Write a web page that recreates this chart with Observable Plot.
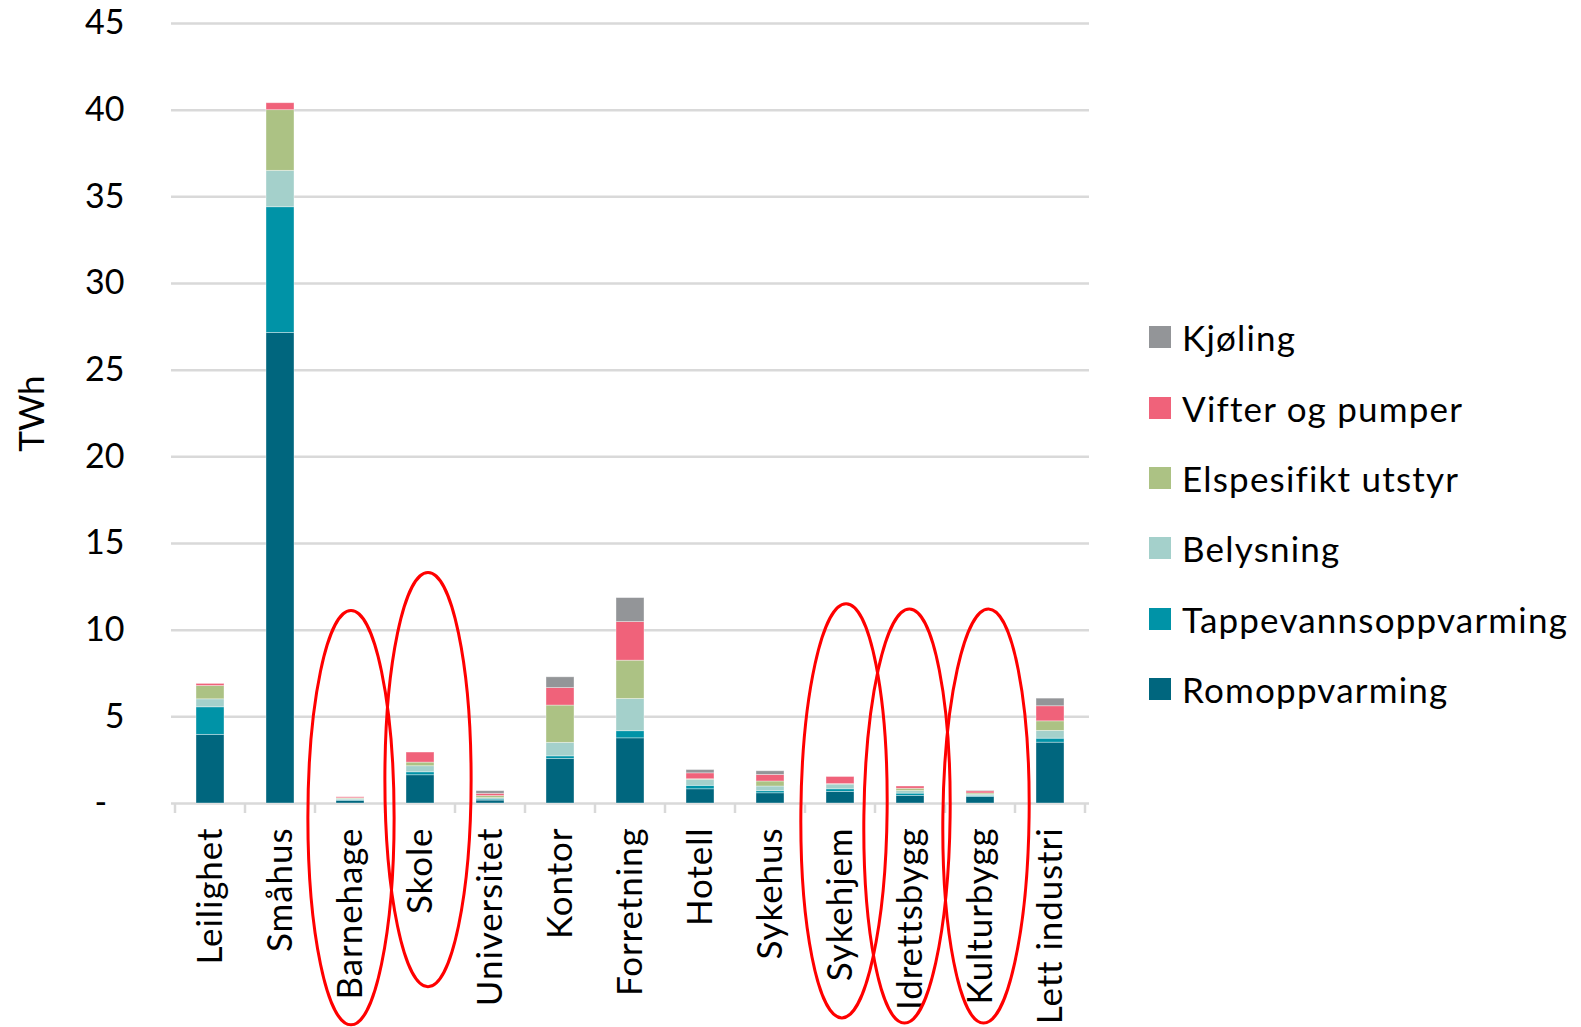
<!DOCTYPE html>
<html lang="no">
<head>
<meta charset="utf-8">
<script src="https://cdn.jsdelivr.net/npm/d3@7"></script>
<script src="https://cdn.jsdelivr.net/npm/@observablehq/plot@0.6"></script>
<style>
  html, body { margin: 0; padding: 0; background: #fff; }
  #wrap { position: relative; width: 1581px; height: 1027px; font-family: Lato, "Noto Sans", sans-serif; color: #000; }
  #legend { position: absolute; left: 1149px; top: 302px; }
  .item { display: flex; align-items: center; height: 70.4px; font-size: 35px; letter-spacing: 1.2px; white-space: nowrap; }
  .sw { width: 22px; height: 22px; margin-right: 11px; flex: none; }
  svg g[aria-label="x-axis tick label"] text { letter-spacing: 0.9px; }
</style>
</head>
<body>
<div id="wrap"><div id="legend"></div></div>
<script>
// Building categories (x axis)
const categories = ["Leilighet", "Småhus", "Barnehage", "Skole", "Universitet", "Kontor", "Forretning", "Hotell", "Sykehus", "Sykehjem", "Idrettsbygg", "Kulturbygg", "Lett industri"];

// End-use series, bottom of the stack first
const seriesNames = ["Romoppvarming", "Tappevannsoppvarming", "Belysning", "Elspesifikt utstyr", "Vifter og pumper", "Kjøling"];

// TWh per building category, one array per end use
const romoppvarming      = [3.96, 27.15, 0.15, 1.63, 0.17, 2.57, 3.76, 0.82, 0.59, 0.67, 0.44, 0.38, 3.51];
const tappevannsoppvarm  = [1.59,  7.25, 0.05, 0.17, 0.06, 0.15, 0.41, 0.20, 0.12, 0.15, 0.13, 0.06, 0.23];
const belysning          = [0.46,  2.10, 0.06, 0.35, 0.08, 0.78, 1.86, 0.35, 0.27, 0.27, 0.15, 0.07, 0.45];
const elspesifikt        = [0.77,  3.50, 0.04, 0.21, 0.12, 2.15, 2.21, 0.03, 0.29, 0.03, 0.13, 0.07, 0.55];
const vifterPumper       = [0.12,  0.40, 0.06, 0.58, 0.13, 1.01, 2.23, 0.34, 0.38, 0.41, 0.13, 0.12, 0.87];
const kjoling            = [0.00,  0.00, 0.00, 0.00, 0.15, 0.62, 1.38, 0.19, 0.21, 0.00, 0.00, 0.03, 0.44];

// Y axis tick values
const yTicks = [0, 5, 10, 15, 20, 25, 30, 35, 40, 45];

// Highlighted categories: ellipse vertical extent in TWh (reaching below the axis into the labels)
const highlights = [
  {category: "Barnehage",   top: 11.1, bottom: -12.8, shift: 1,  tilt: 0},
  {category: "Skole",       top: 13.3, bottom: -10.6, shift: 8,  tilt: 0},
  {category: "Sykehjem",    top: 11.5, bottom: -12.4, shift: 4,  tilt: 0.6},
  {category: "Idrettsbygg", top: 11.2, bottom: -12.7, shift: -3, tilt: 0.7},
  {category: "Kulturbygg",  top: 11.2, bottom: -12.7, shift: 6,  tilt: 0.7}
];

const palette = ["#00667e", "#0093a7", "#a4d0cb", "#acc284", "#f0627a", "#939598"];

const seriesValues = [romoppvarming, tappevannsoppvarm, belysning, elspesifikt, vifterPumper, kjoling];
const rows = categories.flatMap((c, i) =>
  seriesNames.map((s, j) => ({category: c, series: s, value: seriesValues[j][i]}))
);

const chart = Plot.plot({
  width: 1581,
  height: 1027,
  marginLeft: 171,
  marginRight: 492,
  marginTop: 23,
  marginBottom: 224,
  style: {fontFamily: "Lato, 'Noto Sans', sans-serif", color: "#000", background: "transparent"},
  x: {domain: categories, paddingInner: 0.6, paddingOuter: 0.3},
  y: {domain: [0, 45]},
  color: {domain: seriesNames, range: palette},
  marks: [
    Plot.gridY(yTicks.filter(d => d > 0), {stroke: "#d9d9d9", strokeOpacity: 1, strokeWidth: 2.5}),
    Plot.ruleY([0], {stroke: "#d9d9d9", strokeWidth: 2.5}),
    Plot.barY(rows, Plot.stackY({
      x: "category", y: "value", fill: "series", z: "series", order: seriesNames,
      stroke: "#ffffff", strokeWidth: 0.8, strokeOpacity: 0.45
    })),
    Plot.axisY(yTicks, {
      tickSize: 0, tickPadding: 47, fontSize: 34, label: null,
      tickFormat: d => d === 0 ? "-\u00a0\u00a0" : String(d)
    }),
    Plot.axisX({tickSize: 0, tickPadding: 24, tickRotate: -90, fontSize: 35, label: null}),
    Plot.text(["TWh"], {frameAnchor: "left", textAnchor: "middle", dx: -139, rotate: -90, fontSize: 35, fill: "#000"})
  ]
});

document.getElementById("wrap").prepend(chart);

// Category separators along the baseline and highlight ellipses, placed with the chart scales
const sx = chart.scale("x");
const sy = chart.scale("y");
const svg = d3.select(chart);
const step = sx.step;
const bw = sx.bandwidth;
const y0 = sy.apply(0);
const edges = categories.map(c => sx.apply(c) + bw / 2 - step / 2);
edges.push(sx.apply(categories[categories.length - 1]) + bw / 2 + step / 2);

svg.append("g")
  .attr("stroke", "#d9d9d9")
  .attr("stroke-width", 2.5)
  .selectAll("line")
  .data(edges)
  .join("line")
  .attr("x1", d => d).attr("x2", d => d)
  .attr("y1", y0).attr("y2", y0 + 10);

const ellipseGeom = d => ({
  cx: sx.apply(d.category) + bw / 2 + d.shift,
  cy: (sy.apply(d.top) + sy.apply(d.bottom)) / 2,
  ry: (sy.apply(d.bottom) - sy.apply(d.top)) / 2
});

svg.append("g")
  .attr("fill", "none")
  .attr("stroke", "#ff0000")
  .attr("stroke-width", 3)
  .selectAll("ellipse")
  .data(highlights)
  .join("ellipse")
  .each(function(d) {
    const g = ellipseGeom(d);
    d3.select(this)
      .attr("cx", g.cx).attr("cy", g.cy)
      .attr("rx", step * 0.616).attr("ry", g.ry)
      .attr("transform", `rotate(${d.tilt}, ${g.cx}, ${g.cy})`);
  });

// Legend, top entry = top of the stack
const legend = d3.select("#legend");
seriesNames.map((s, i) => ({s, c: palette[i]})).reverse().forEach(({s, c}) => {
  const item = legend.append("div").attr("class", "item");
  item.append("div").attr("class", "sw").style("background", c);
  item.append("span").text(s);
});
</script>
</body>
</html>
